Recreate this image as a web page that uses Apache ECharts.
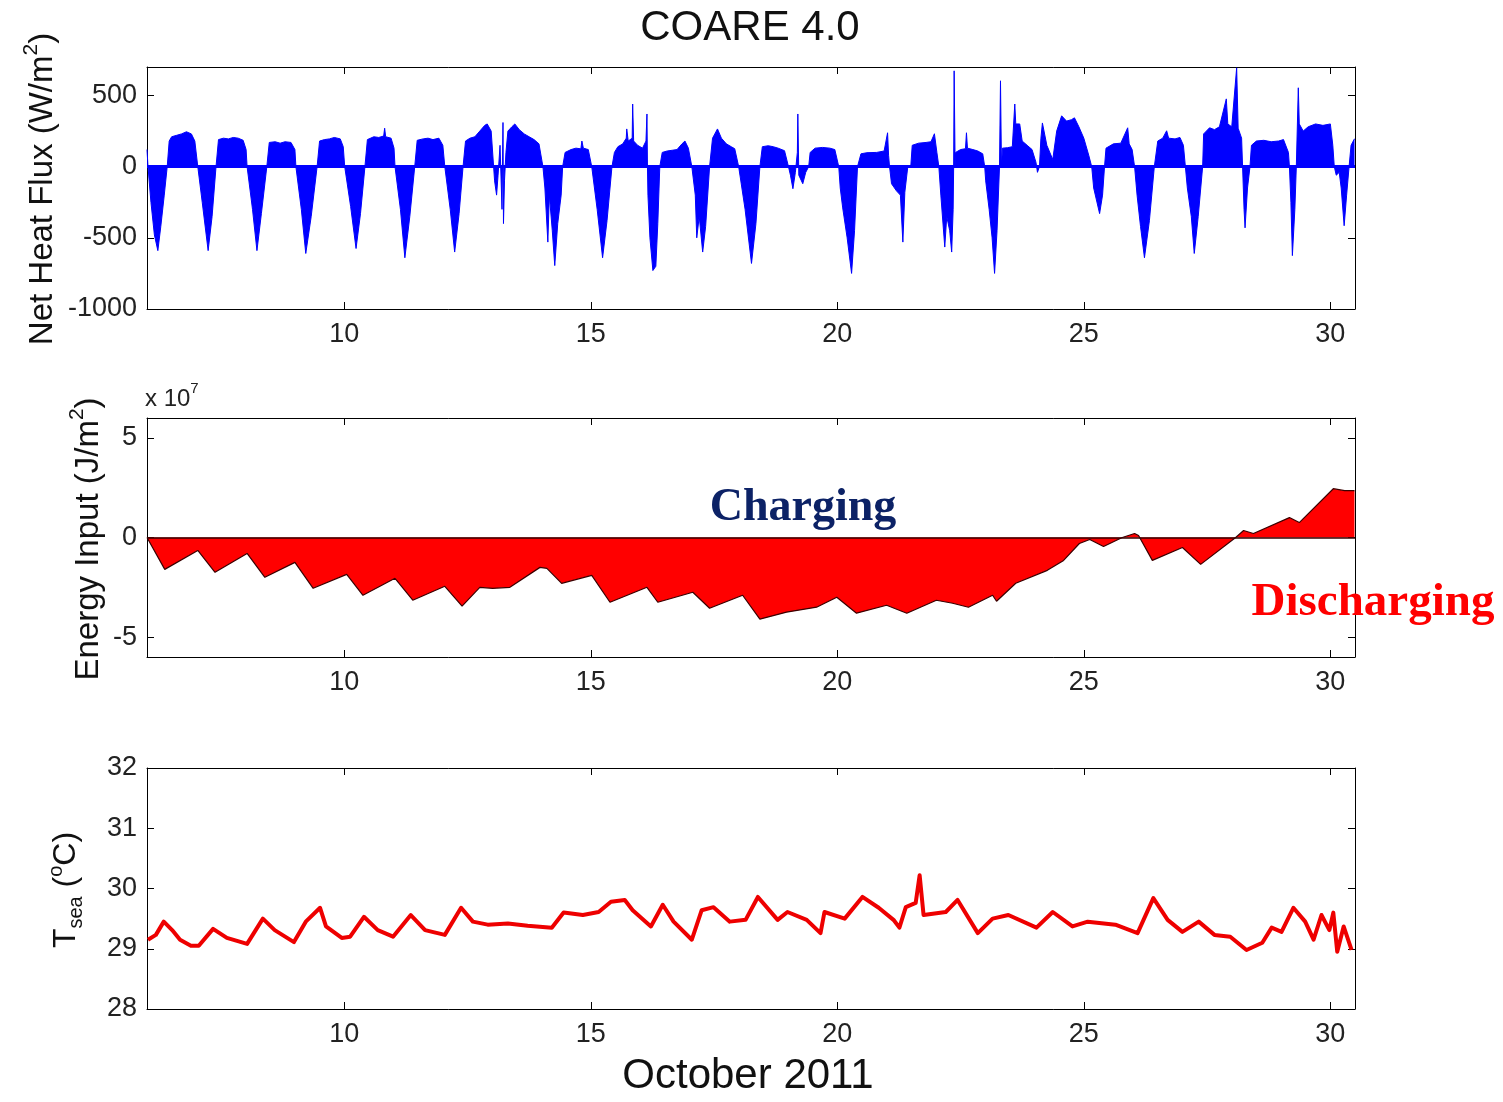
<!DOCTYPE html>
<html>
<head>
<meta charset="utf-8">
<script src="https://cdn.jsdelivr.net/npm/echarts@6/dist/echarts.min.js"></script>
<style>
html,body{margin:0;padding:0;background:#fff;}
#chart{width:1503px;height:1102px;}
</style>
</head>
<body>
<div id="chart"></div>
<script>
// ---------- DATA ----------
// Panel 1: Net heat flux (W/m^2), days of October 2011
const fluxT = [6.00,6.02,6.08,6.15,6.22,6.28,6.35,6.41,6.43,6.45,6.5,6.6,6.7,6.8,6.9,6.97,7.03,
7.05,7.12,7.24,7.32,7.40,7.42,7.45,7.55,7.65,7.75,7.85,7.95,8.01,8.03,
8.05,8.14,8.23,8.32,8.43,8.45,8.48,8.6,8.7,8.8,8.92,9.0,9.02,
9.04,9.13,9.22,9.33,9.45,9.47,9.5,9.6,9.7,9.8,9.92,9.98,10.01,
10.03,10.13,10.24,10.33,10.42,10.44,10.47,10.6,10.7,10.8,10.82,10.84,10.95,11.01,11.03,
11.05,11.14,11.23,11.33,11.43,11.45,11.48,11.6,11.7,11.8,11.92,12.0,12.04,
12.06,12.15,12.24,12.33,12.41,12.43,12.46,12.55,12.65,12.75,12.85,12.9,12.98,13.03,
13.05,13.09,13.12,13.16,13.2,13.22,13.23,13.25,13.28,13.32,
13.4,13.46,13.55,13.65,13.75,13.85,13.95,14.03,
14.07,14.13,14.16,14.22,14.27,14.33,14.4,14.43,
14.45,14.48,14.6,14.7,14.8,14.82,14.85,14.95,15.02,
15.04,15.13,15.24,15.33,15.43,
15.45,15.48,15.55,15.65,15.72,15.73,15.76,15.84,15.85,15.87,15.95,16.05,16.12,16.14,16.15,
16.16,16.2,16.26,16.32,16.36,16.40,
16.42,16.45,16.55,16.65,16.75,16.85,16.91,16.98,17.05,
17.07,17.12,17.15,17.2,17.27,17.33,17.41,
17.43,17.47,17.57,17.65,17.75,17.85,17.92,18.0,
18.04,18.13,18.26,18.35,18.43,
18.45,18.48,18.6,18.7,18.8,18.93,19.01,
19.05,19.1,19.15,19.19,19.2,19.22,19.3,19.36,19.42,
19.45,19.55,19.7,19.85,19.95,20.03,
20.06,20.11,20.2,20.29,20.35,20.41,
20.45,20.48,20.6,20.8,20.95,21.02,21.04,21.06,
21.1,21.2,21.28,21.33,21.37,21.43,
21.49,21.52,21.65,21.8,21.9,21.97,22.02,22.06,
22.1,22.18,22.22,22.28,22.32,22.35,22.36,22.37,22.39,
22.4,22.5,22.6,22.62,22.64,22.75,22.85,22.95,22.99,
23.01,23.08,23.14,23.19,23.24,23.29,23.31,23.33,
23.35,23.45,23.55,23.6,23.62,23.7,23.75,23.85,23.95,24.03,24.06,24.1,
24.13,24.16,24.25,24.37,24.45,24.55,24.65,24.75,24.81,24.9,25.0,25.1,25.16,
25.2,25.32,25.38,25.42,
25.45,25.6,25.75,25.89,25.92,25.98,26.03,
26.08,26.15,26.23,26.33,26.43,
26.47,26.5,26.6,26.68,26.72,26.85,26.95,27.02,27.06,
27.1,27.18,27.24,27.32,27.41,
27.43,27.55,27.65,27.75,27.89,27.92,28.0,28.1,28.13,28.2,28.22,
28.25,28.27,28.32,28.37,
28.4,28.5,28.65,28.8,28.95,29.05,29.15,29.17,
29.2,29.23,29.28,29.31,29.35,29.37,
29.45,29.55,29.7,29.85,30.0,30.05,30.08,
30.12,30.18,30.22,30.28,30.33,30.38,30.42,30.49];
const fluxW = [120,0,-250,-480,-590,-420,-200,0,0,180,210,220,230,245,230,180,0,
0,-250,-590,-350,0,0,190,200,195,205,200,185,120,0,
0,-300,-590,-330,0,0,170,175,165,175,170,120,0,
0,-300,-610,-350,0,0,180,190,195,205,195,140,0,
0,-280,-575,-330,0,0,190,210,205,215,270,210,200,130,0,
0,-300,-640,-350,0,0,185,195,200,190,200,150,0,
0,-300,-600,-330,0,0,180,200,210,250,290,300,250,0,
-100,-200,-60,150,-300,310,-400,-100,100,250,
280,300,260,230,210,190,160,0,
-150,-530,-200,-450,-695,-400,-200,0,
0,100,120,130,125,180,130,120,0,
0,-300,-640,-380,0,
0,100,140,160,200,265,180,200,440,180,150,130,180,370,0,
-200,-500,-730,-700,-400,0,
0,100,110,115,120,160,180,130,0,
0,-200,-500,-350,-600,-420,0,
0,200,265,200,160,140,126,0,
0,-300,-680,-400,0,
0,140,147,140,130,112,0,
-60,-155,-40,100,370,-60,-120,-40,0,
100,130,135,130,120,0,
-150,-290,-500,-750,-450,0,
0,90,98,100,110,238,80,0,
-120,-170,-200,-530,-180,0,
0,150,165,170,175,231,100,0,
-200,-565,-350,-450,-600,-300,0,673,0,
100,120,126,238,130,120,110,90,0,
-100,-300,-500,-750,-450,0,603,0,
130,133,140,440,300,300,180,150,120,30,-40,0,
200,307,150,50,250,357,320,330,343,280,200,80,0,
-150,-330,-200,0,
130,160,165,273,160,120,0,
-200,-420,-640,-380,0,
0,180,200,252,200,195,205,150,0,
-150,-350,-610,-350,0,
230,273,260,280,476,300,280,694,270,200,0,
-300,-430,-150,0,
150,180,185,175,180,190,100,0,
-250,-625,-300,0,554,300,
250,280,300,290,300,150,0,
-60,-40,-150,-415,-200,0,150,196];

// Panel 2: cumulative energy input (units of 1e7 J/m^2)
const energyT = [6.00,6.36,7.03,7.38,8.03,8.39,9.00,9.37,10.05,10.38,11.03,11.39,12.04,12.39,12.75,13.01,13.36,13.97,14.11,14.41,15.02,15.39,16.14,16.36,17.07,17.41,18.08,18.43,18.97,19.58,19.99,20.39,21.00,21.41,22.01,22.34,22.66,23.15,23.23,23.62,24.26,24.59,24.91,25.12,25.40,25.78,26.03,26.11,26.39,27.00,27.37,28.08,28.24,28.44,29.17,29.37,30.06,30.29,30.49];
const energyE7 = [0,-1.6,-0.65,-1.75,-0.8,-2.0,-1.25,-2.55,-1.85,-2.9,-2.05,-3.15,-2.45,-3.45,-2.5,-2.55,-2.5,-1.5,-1.55,-2.3,-1.9,-3.25,-2.5,-3.25,-2.75,-3.55,-2.9,-4.1,-3.75,-3.5,-3.0,-3.8,-3.4,-3.8,-3.15,-3.3,-3.5,-2.9,-3.2,-2.3,-1.65,-1.15,-0.3,-0.1,-0.45,0.0,0.2,0.1,-1.15,-0.5,-1.35,0,0.35,0.2,1.0,0.75,2.45,2.35,2.35];

// Panel 3: sea surface temperature (deg C)
const sstT = [6.02,6.18,6.34,6.51,6.67,6.89,7.05,7.34,7.62,8.03,8.35,8.59,8.98,9.22,9.51,9.63,9.95,10.12,10.40,10.68,10.99,11.35,11.64,12.04,12.37,12.61,12.91,13.32,13.72,14.21,14.45,14.84,15.16,15.41,15.69,15.85,16.22,16.46,16.68,17.05,17.25,17.49,17.82,18.14,18.39,18.79,18.99,19.38,19.66,19.74,20.15,20.51,20.84,21.14,21.26,21.39,21.59,21.67,21.75,22.20,22.44,22.85,23.15,23.47,24.04,24.37,24.77,25.08,25.64,26.09,26.41,26.70,27.00,27.33,27.65,27.97,28.30,28.62,28.81,29.01,29.25,29.49,29.66,29.82,29.98,30.06,30.14,30.27,30.43];
const sstC = [29.15,29.23,29.45,29.31,29.15,29.05,29.05,29.33,29.18,29.08,29.50,29.31,29.11,29.45,29.68,29.37,29.18,29.20,29.53,29.31,29.20,29.56,29.31,29.23,29.68,29.45,29.40,29.42,29.38,29.35,29.60,29.56,29.61,29.78,29.81,29.64,29.37,29.73,29.45,29.15,29.64,29.69,29.45,29.48,29.86,29.48,29.61,29.48,29.26,29.61,29.50,29.86,29.68,29.48,29.35,29.69,29.76,30.22,29.56,29.61,29.81,29.26,29.50,29.56,29.35,29.61,29.37,29.45,29.40,29.26,29.84,29.48,29.28,29.45,29.23,29.20,28.98,29.10,29.35,29.28,29.68,29.45,29.15,29.56,29.31,29.60,28.95,29.37,28.98];

const xTicks = [10, 15, 20, 25, 30];
const fluxTicks = [-1000, -500, 0, 500];
const energyTicks = [-5, 0, 5];
const sstTicks = [28, 29, 30, 31, 32];

// ---------- CHART ----------
const zip = (a, b) => a.map((v, i) => [v, b[i]]);
const FONT = '"Liberation Sans", Arial, sans-serif';
const plain = v => String(v);
const chart = echarts.init(document.getElementById('chart'));

const grids = [
  {left: 147, width: 1208, top: 67, height: 242},
  {left: 147, width: 1208, top: 418, height: 239},
  {left: 147, width: 1208, top: 768, height: 241}
];
const yCfg = [
  {min: -1000, max: 700, ticks: fluxTicks},
  {min: -6, max: 6, ticks: energyTicks},
  {min: 28, max: 32, ticks: sstTicks}
];

const xAxes = [], yAxes = [];
grids.forEach((g, i) => {
  xAxes.push({
    type: 'value', gridIndex: i, min: 6, max: 30.5, position: 'bottom',
    axisLine: {show: true, onZero: false, lineStyle: {color: '#000', width: 1}},
    axisTick: {show: true, inside: true, length: 7, customValues: xTicks, lineStyle: {color: '#000'}},
    axisLabel: {show: true, customValues: xTicks, formatter: plain, color: '#222', fontSize: 27, fontFamily: FONT, margin: 12},
    splitLine: {show: false}
  });
  xAxes.push({
    type: 'value', gridIndex: i, min: 6, max: 30.5, position: 'top',
    axisLine: {show: true, onZero: false, lineStyle: {color: '#000', width: 1}},
    axisTick: {show: true, inside: true, length: 7, customValues: xTicks, lineStyle: {color: '#000'}},
    axisLabel: {show: false},
    splitLine: {show: false}
  });
  const c = yCfg[i];
  yAxes.push({
    type: 'value', gridIndex: i, min: c.min, max: c.max, position: 'left',
    axisLine: {show: true, onZero: false, lineStyle: {color: '#000', width: 1}},
    axisTick: {show: true, inside: true, length: 7, customValues: c.ticks, lineStyle: {color: '#000'}},
    axisLabel: {show: true, customValues: c.ticks, formatter: plain, color: '#222', fontSize: 27, fontFamily: FONT, margin: 10},
    splitLine: {show: false}
  });
  yAxes.push({
    type: 'value', gridIndex: i, min: c.min, max: c.max, position: 'right',
    axisLine: {show: true, onZero: false, lineStyle: {color: '#000', width: 1}},
    axisTick: {show: true, inside: true, length: 7, customValues: c.ticks, lineStyle: {color: '#000'}},
    axisLabel: {show: false},
    splitLine: {show: false}
  });
});

const option = {
  animation: false,
  backgroundColor: '#fff',
  grid: grids,
  xAxis: xAxes,
  yAxis: yAxes,
  series: [
    {
      type: 'line', xAxisIndex: 0, yAxisIndex: 0, data: zip(fluxT, fluxW),
      symbol: 'none', z: 3,
      lineStyle: {color: '#0000ff', width: 1},
      areaStyle: {color: '#0000ff', opacity: 1, origin: 0},
      markLine: {silent: true, symbol: 'none', label: {show: false},
        lineStyle: {color: '#0000ff', width: 3, type: 'solid'}, data: [{yAxis: 0}]}
    },
    {
      type: 'line', xAxisIndex: 2, yAxisIndex: 2, data: zip(energyT, energyE7),
      symbol: 'none', z: 3,
      lineStyle: {color: '#3a0000', width: 1.2},
      areaStyle: {color: '#ff0000', opacity: 1, origin: 0},
      markLine: {silent: true, symbol: 'none', label: {show: false},
        lineStyle: {color: '#300', width: 1.5, type: 'solid'}, data: [{yAxis: 0}]}
    },
    {
      type: 'line', xAxisIndex: 4, yAxisIndex: 4, data: zip(sstT, sstC),
      symbol: 'none', z: 3,
      lineStyle: {color: '#ee0000', width: 4, join: 'round'}
    }
  ],
  graphic: [
    {type: 'text', x: 750, y: 28, style: {text: 'COARE 4.0', font: '42px ' + FONT, fill: '#111', align: 'center', verticalAlign: 'middle'}},
    {type: 'text', x: 748, y: 1076, style: {text: 'October 2011', font: '42px ' + FONT, fill: '#111', align: 'center', verticalAlign: 'middle'}},
    {type: 'text', x: 40, y: 189, rotation: Math.PI / 2, style: {
      text: '{a|Net Heat Flux (W/m}{s|2}{a|)}', align: 'center', verticalAlign: 'middle',
      rich: {a: {fontSize: 33, fontFamily: FONT, fill: '#111', lineHeight: 38, verticalAlign: 'bottom'},
             s: {fontSize: 21, fontFamily: FONT, fill: '#111', lineHeight: 38, verticalAlign: 'top'}}}},
    {type: 'text', x: 86, y: 539, rotation: Math.PI / 2, style: {
      text: '{a|Energy Input (J/m}{s|2}{a|)}', align: 'center', verticalAlign: 'middle',
      rich: {a: {fontSize: 33, fontFamily: FONT, fill: '#111', lineHeight: 38, verticalAlign: 'bottom'},
             s: {fontSize: 21, fontFamily: FONT, fill: '#111', lineHeight: 38, verticalAlign: 'top'}}}},
    {type: 'text', x: 66, y: 890, rotation: Math.PI / 2, style: {
      text: '{a|T}{b|sea}{a| (}{s|o}{a|C)}', align: 'center', verticalAlign: 'middle',
      rich: {a: {fontSize: 32, fontFamily: FONT, fill: '#111', lineHeight: 40},
             b: {fontSize: 20, fontFamily: FONT, fill: '#111', lineHeight: 40, verticalAlign: 'bottom'},
             s: {fontSize: 20, fontFamily: FONT, fill: '#111', lineHeight: 40, verticalAlign: 'top'}}}},
    {type: 'text', x: 145, y: 396, style: {
      text: '{a|x 10}{s|7}', verticalAlign: 'middle',
      rich: {a: {fontSize: 24, fontFamily: FONT, fill: '#222', lineHeight: 30, verticalAlign: 'bottom'},
             s: {fontSize: 15, fontFamily: FONT, fill: '#222', lineHeight: 30, verticalAlign: 'top'}}}},
    {type: 'text', x: 803, y: 508, z: 10, style: {text: 'Charging', font: 'bold 46px "Liberation Serif", "Times New Roman", serif', fill: '#0c2266', align: 'center', verticalAlign: 'middle'}},
    {type: 'text', x: 1373, y: 603, z: 10, style: {text: 'Discharging', font: 'bold 47px "Liberation Serif", "Times New Roman", serif', fill: '#ff0000', align: 'center', verticalAlign: 'middle'}}
  ]
};
chart.setOption(option);
</script>
</body>
</html>
